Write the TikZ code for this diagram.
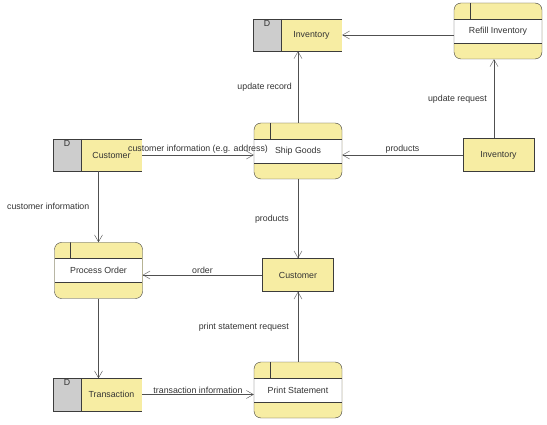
\documentclass[tikz,border=0pt]{standalone}
\usepackage{fontspec}
\setmainfont{Liberation Sans}
\usetikzlibrary{arrows.meta, positioning}

\definecolor{dfdyellow}{RGB}{247,237,163}
\definecolor{dfdgray}{RGB}{205,205,205}
\definecolor{boxline}{RGB}{60,60,60}
\definecolor{lineclr}{RGB}{80,80,80}

\tikzset{
  every node/.style={font=\fontsize{8.8}{10}\selectfont, text=black!80},
  proc/.style={draw=boxline, fill=dfdyellow, rounded corners=7pt, minimum width=88pt, minimum height=56pt, inner sep=0pt,
    path picture={
      \fill[white, sharp corners] ([yshift=-16pt]path picture bounding box.north west) rectangle ([yshift=16pt]path picture bounding box.south east);
      \draw[boxline, sharp corners] ([yshift=-16pt]path picture bounding box.north west) -- ([yshift=-16pt]path picture bounding box.north east);
      \draw[boxline, sharp corners] ([yshift=16pt]path picture bounding box.south west) -- ([yshift=16pt]path picture bounding box.south east);
      \draw[boxline, sharp corners] ([xshift=16pt]path picture bounding box.north west) -- ([xshift=16pt, yshift=-16pt]path picture bounding box.north west);
    }},
  entity/.style={draw=boxline, fill=dfdyellow, minimum width=71pt, minimum height=33pt, inner sep=0pt},
  store/.style={fill=dfdyellow, minimum width=61pt, minimum height=32pt, inner sep=0pt},
  storeid/.style={fill=dfdgray, minimum width=27pt, minimum height=32pt, inner sep=0pt},
  flow/.style={draw=lineclr, thin, -{Straight Barb[length=7pt, width=8pt]}},
  lbl/.style={inner sep=1pt}
}

\begin{document}
\begin{tikzpicture}[x=1pt, y=-1pt]
  \useasboundingbox (0,0) rectangle (547,425);

  % data stores
  \node[store] (invs) at (311.5,35) {Inventory};
  \node[storeid, left=0pt of invs, label={[anchor=north, inner sep=1pt]north:D}] (invs-d) {};
  \node[store] (custs) at (111.5,155) {Customer};
  \node[storeid, left=0pt of custs, label={[anchor=north, inner sep=1pt]north:D}] (custs-d) {};
  \node[store] (trans) at (111.5,394.5) {Transaction};
  \node[storeid, left=0pt of trans, label={[anchor=north, inner sep=1pt]north:D}] (trans-d) {};
  \foreach \s in {invs, custs, trans} {
    \draw[boxline] (\s.north east) -- (\s-d.north west) -- (\s-d.south west) -- (\s.south east);
    \draw[boxline] (\s-d.north east) -- (\s-d.south east);
  }

  % processes
  \node[proc] (refill) at (498,31) {Refill Inventory};
  \node[proc] (ship) at (298,151) {Ship Goods};
  \node[proc] (porder) at (98.5,270.5) {Process Order};
  \node[proc] (print) at (298,390) {Print Statement};

  % external entities
  \node[entity] (invent) at (498.5,155) {Inventory};
  \node[entity] (cust) at (298,275) {Customer};

  % flows
  \draw[flow] (refill.west |- invs.east) -- (invs.east);
  \draw[flow] (invent.north -| 494,0) -- (refill.south -| 494,0) node[lbl, midway, left=6pt] {update request};
  \draw[flow] (invent.west) -- (invent.west -| ship.east) node[lbl, midway, above] {products};
  \draw[flow] (ship.north) -- (ship.north |- invs.south) node[lbl, midway, left=5pt] {update record};
  \draw[flow] (custs.east) -- (custs.east -| ship.west) node[lbl, midway, above] {customer information (e.g. address)};
  \draw[flow] (porder.north |- custs.south) -- (porder.north) node[lbl, midway, left=8pt] {customer information};
  \draw[flow] (ship.south) -- (ship.south |- cust.north) node[lbl, midway, left=8pt] {products};
  \draw[flow] (cust.west) -- (cust.west -| porder.east) node[lbl, midway, above] {order};
  \draw[flow] (porder.south) -- (porder.south |- trans.north);
  \draw[flow] (trans.east) -- (trans.east -| print.west) node[lbl, midway, above] {transaction information};
  \draw[flow] (print.north) -- (print.north |- cust.south) node[lbl, midway, left=8pt] {print statement request};
\end{tikzpicture}
\end{document}
